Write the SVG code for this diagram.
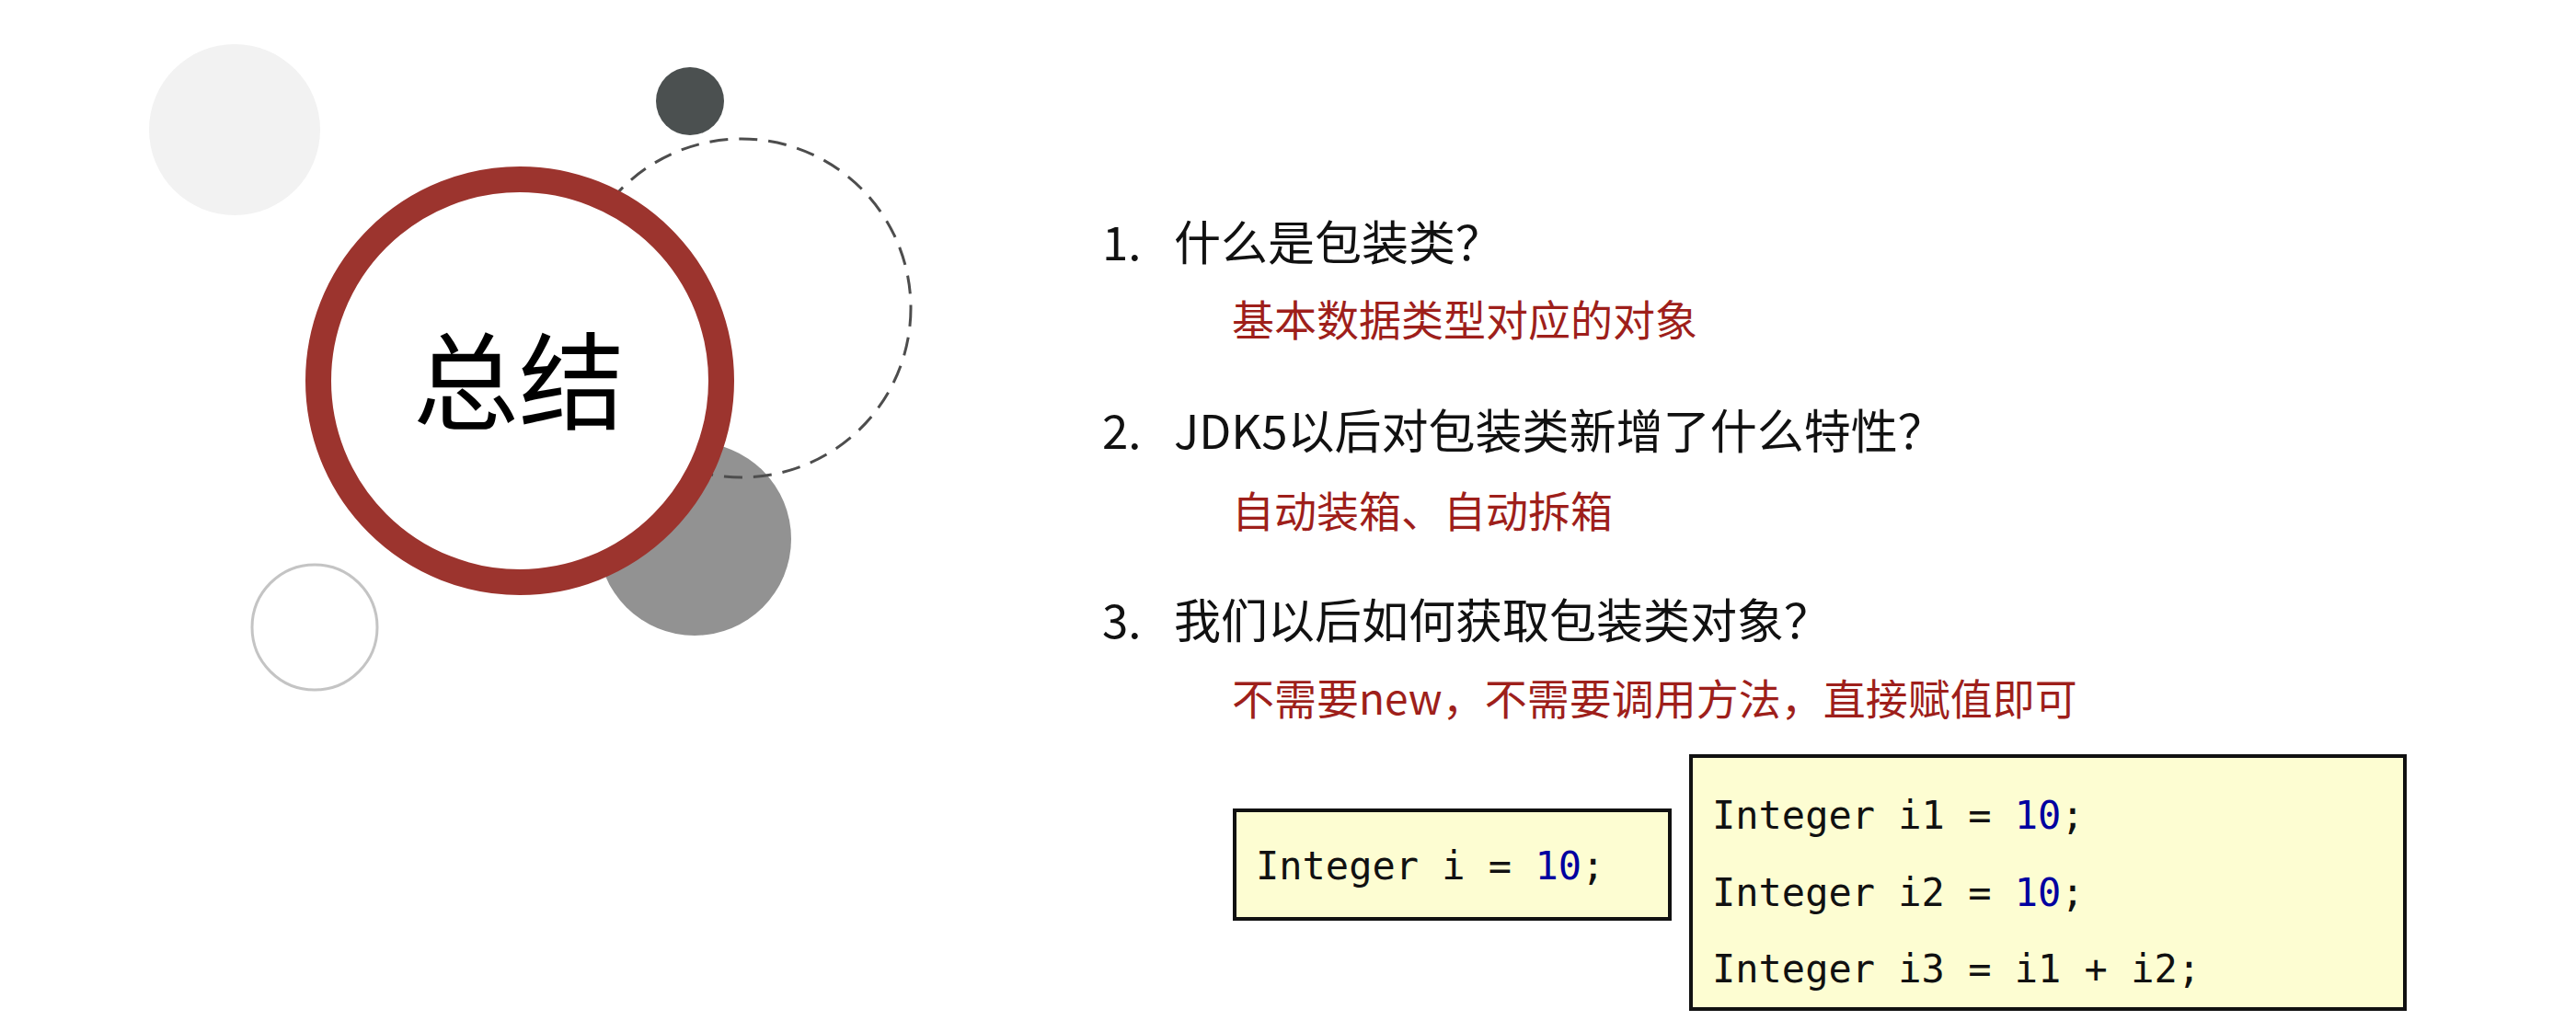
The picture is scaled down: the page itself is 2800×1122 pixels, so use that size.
<svg xmlns="http://www.w3.org/2000/svg" width="2800" height="1122" viewBox="0 0 2800 1122">
<style>
.q{font-family:"Noto Sans CJK SC","Noto Sans",sans-serif;font-size:51px;fill:#111}
.a{font-family:"Noto Sans CJK SC","Noto Sans",sans-serif;font-size:46px;fill:#9e1f1b}
.code{font-family:"DejaVu Sans Mono","Liberation Mono",monospace;font-size:42px;fill:#111}
.num{fill:#0000a0}
.box{fill:#fdfdd2;stroke:#111;stroke-width:4}
</style>
<rect width="2800" height="1122" fill="#ffffff"/>
<g id="deco">
<circle id="c-light" cx="255" cy="141" r="93" fill="#f2f2f2"/>
<circle id="c-dark" cx="750" cy="110" r="37" fill="#4b5050"/>
<circle id="c-grey" cx="755" cy="586" r="105" fill="#929292"/>
<circle id="c-dashed" cx="806" cy="335" r="184" fill="none" stroke="#4d4d4d" stroke-width="3" stroke-dasharray="20 12"/>
<circle id="c-outline" cx="342" cy="682" r="68" fill="none" stroke="#c4c4c4" stroke-width="3"/>
</g>
<g id="title">
<circle cx="565" cy="414" r="219" fill="#ffffff" stroke="#9c342e" stroke-width="28"/>
<text x="564" y="458" text-anchor="middle" style="font-family:'Noto Sans CJK SC','Noto Sans',sans-serif;font-size:115px;fill:#000">总结</text>
</g>
<g id="q1">
<text class="q" x="1198" y="283">1.</text>
<text class="q" x="1276" y="283">什么是包装类？</text>
<text class="a" x="1339" y="365">基本数据类型对应的对象</text>
</g>
<g id="q2">
<text class="q" x="1198" y="488">2.</text>
<text class="q" x="1276" y="488">JDK5以后对包装类新增了什么特性？</text>
<text class="a" x="1339" y="573">自动装箱、自动拆箱</text>
</g>
<g id="q3">
<text class="q" x="1198" y="694">3.</text>
<text class="q" x="1276" y="694">我们以后如何获取包装类对象？</text>
<text class="a" x="1339" y="777">不需要new，不需要调用方法，直接赋值即可</text>
</g>
<g id="code1">
<rect class="box" x="1342" y="881" width="473" height="118"/>
<text class="code" x="1365" y="956" xml:space="preserve">Integer i = <tspan class="num">10</tspan>;</text>
</g>
<g id="code2">
<rect class="box" x="1838" y="822" width="776" height="275"/>
<text class="code" x="1861" y="901" xml:space="preserve">Integer i1 = <tspan class="num">10</tspan>;</text>
<text class="code" x="1861" y="985" xml:space="preserve">Integer i2 = <tspan class="num">10</tspan>;</text>
<text class="code" x="1861" y="1068" xml:space="preserve">Integer i3 = i1 + i2;</text>
</g>
<g id="connectors"></g>
</svg>
